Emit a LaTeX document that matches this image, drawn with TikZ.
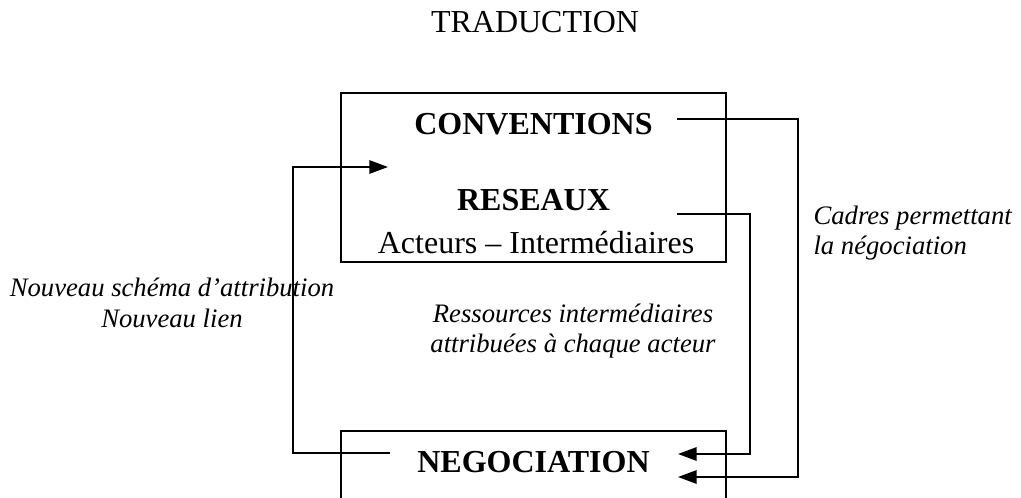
\documentclass[tikz,border=0pt]{standalone}
\usepackage{fontspec}
\setmainfont{Liberation Serif}
\usetikzlibrary{arrows.meta,positioning}

\tikzset{
    cadre/.style={draw,line width=0.85pt,inner sep=0pt},
    boxtext/.style={inner sep=0pt,anchor=base,font=\fontsize{12}{14}\selectfont},
    legende/.style={inner sep=0pt,align=center,font=\fontsize{10}{11.5}\selectfont\itshape},
    lien/.style={line width=0.75pt,-{Triangle[length=7pt,width=5pt]}}
}

\begin{document}
\begin{tikzpicture}[x=0.375pt,y=-0.375pt]
        \useasboundingbox (0,0) rectangle (1021,498);
        \fill[white] (0,0) rectangle (1021,498);
        \clip (0,0) rectangle (1021,498);

        % Title
        \node[boxtext] (trad) at (535,33) {TRADUCTION};

        % Boxes
        \node[cadre,minimum width=144.4pt,minimum height=63.4pt] (haut) at (533.5,177.5) {};
        \node[cadre,minimum width=144.4pt,minimum height=63.4pt,anchor=north] (bas) at (533.5,430) {};

        \node[boxtext] (conv) at (533.5,135) {\bfseries CONVENTIONS};
        \node[boxtext] (res)  at (533.5,210) {\bfseries RESEAUX};
        \node[boxtext] (act)  at (536,254) {Acteurs -- Intermédiaires};
        \node[boxtext] (neg)  at (533.5,472) {\bfseries NEGOCIATION};

        % Ends of the links
        \coordinate (convout) at (677,119);
        \coordinate (resout)  at (677,214);
        \coordinate (negout)  at (390,453);
        \coordinate (negin1)  at (678,454);
        \coordinate (negin2)  at (678,477);
        \coordinate (hautin)  at (388,167);

        \draw[lien] (convout) -- ++(121,0) |- (negin2);
        \draw[lien] (resout) -- ++(73,0) |- (negin1);
        \draw[lien] (negout) -- ++(-97,0) |- (hautin);

        % Labels
        \node[legende] (nouveau) at (172,303) {Nouveau schéma d’attribution\\Nouveau lien};
        \node[legende] (ressources) at (573,331) {Ressources intermédiaires\\attribuées à chaque acteur};
        \node[legende,align=left,anchor=west] (cadres) at (813,233) {Cadres permettant\\la négociation};
    \end{tikzpicture}
\end{document}
